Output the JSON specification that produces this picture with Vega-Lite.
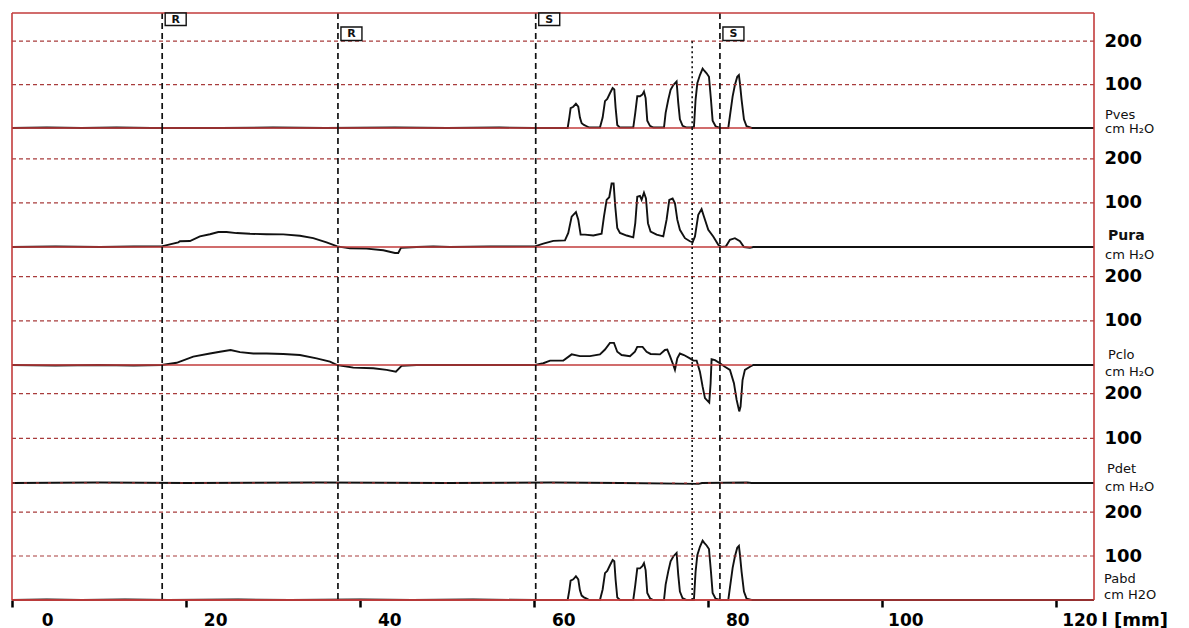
{
  "$schema": "https://vega.github.io/schema/vega-lite/v6.json",
  "background": "white",
  "padding": {"left": 8, "top": 10, "right": 0, "bottom": 0},
  "bounds": "flush",
  "spacing": 0,
  "resolve": {"scale": {"x": "independent", "y": "independent"}},
  "config": {
    "view": {"stroke": null},
    "text": {"font": "DejaVu Sans"},
    "axis": {"labelFont": "DejaVu Sans", "titleFont": "DejaVu Sans"},
    "axisY": {
      "grid": false, "ticks": false, "domain": false, "labelFontSize": 18, "labelFontWeight": "bold",
      "labelColor": "#000", "labelPadding": 10, "labelBaseline": "middle", "labelFlush": false
    }
  },
  "datasets": {
    "levels": [{"v": 100}, {"v": 200}],
    "events": [{"t": 17.26, "label": "R"}, {"t": 37.46, "label": "R"}, {"t": 60.19, "label": "S"}, {"t": 81.36, "label": "S"}],
    "marksTop": [{"t": 17.26, "label": "R"}, {"t": 60.19, "label": "S"}],
    "marksLow": [{"t": 37.46, "label": "R"}, {"t": 81.36, "label": "S"}],
    "edges": [{"x": 0}, {"x": 124.35}],
    "pves": [
      {"mm":0,"p":0},{"mm":4,"p":1},{"mm":8,"p":0},{"mm":12,"p":1},{"mm":16,"p":0},{"mm":24,"p":0},{"mm":30,"p":1},{"mm":36,"p":0},{"mm":44,"p":1},{"mm":50,"p":0},{"mm":56,"p":1},{"mm":60,"p":0},{"mm":63.86,"p":0},
      {"mm":64.05,"p":24},{"mm":64.2,"p":46},{"mm":64.51,"p":49},{"mm":64.81,"p":56},{"mm":65.08,"p":49},{"mm":65.27,"p":24},{"mm":65.47,"p":11},{"mm":65.73,"p":7},{"mm":66.04,"p":4},{"mm":66.35,"p":1},
      {"mm":67.57,"p":1},{"mm":67.88,"p":24},{"mm":68.15,"p":62},{"mm":68.41,"p":67},{"mm":68.72,"p":80},{"mm":69.03,"p":92},{"mm":69.22,"p":89},{"mm":69.37,"p":47},{"mm":69.56,"p":7},{"mm":69.87,"p":1},
      {"mm":71.4,"p":1},{"mm":71.63,"p":35},{"mm":71.86,"p":73},{"mm":72.17,"p":73},{"mm":72.44,"p":77},{"mm":72.63,"p":84},{"mm":72.82,"p":69},{"mm":73.01,"p":17},{"mm":73.32,"p":5},{"mm":73.7,"p":1},
      {"mm":74.93,"p":1},{"mm":75.12,"p":35},{"mm":75.42,"p":65},{"mm":75.69,"p":88},{"mm":76.0,"p":99},{"mm":76.38,"p":107},{"mm":76.57,"p":58},{"mm":76.76,"p":20},{"mm":77.07,"p":5},{"mm":77.53,"p":1},
      {"mm":78.37,"p":1},{"mm":78.56,"p":65},{"mm":78.76,"p":103},{"mm":79.06,"p":122},{"mm":79.37,"p":137},{"mm":79.56,"p":132},{"mm":79.83,"p":126},{"mm":80.1,"p":118},{"mm":80.33,"p":65},{"mm":80.52,"p":17},{"mm":80.86,"p":4},{"mm":81.36,"p":0},
      {"mm":82.32,"p":0},{"mm":82.51,"p":28},{"mm":82.82,"p":73},{"mm":83.08,"p":99},{"mm":83.35,"p":118},{"mm":83.54,"p":122},{"mm":83.66,"p":103},{"mm":83.85,"p":65},{"mm":84.12,"p":20},{"mm":84.42,"p":4},{"mm":85.0,"p":0},{"mm":124.35,"p":0}
    ],
    "pura": [
      {"mm":0,"p":0},{"mm":5,"p":1},{"mm":10.11,"p":0},{"mm":14,"p":1},{"mm":17.2,"p":1.5},{"mm":18.15,"p":6},{"mm":19.11,"p":10.5},{"mm":19.3,"p":13},{"mm":20.45,"p":13.5},{"mm":21.6,"p":24},{"mm":22.75,"p":29},{"mm":23.71,"p":34},{"mm":24.66,"p":34},{"mm":25.81,"p":31.6},{"mm":27.35,"p":30},{"mm":29.26,"p":29},{"mm":31.18,"p":28.6},{"mm":33.09,"p":25.6},{"mm":34.62,"p":20},{"mm":36.15,"p":10.5},{"mm":37.38,"p":1.5},{"mm":38.84,"p":-3},{"mm":40.75,"p":-3.8},{"mm":42.67,"p":-7.5},{"mm":44.01,"p":-13.5},{"mm":44.39,"p":-13.5},{"mm":44.7,"p":-2},{"mm":46.5,"p":0},{"mm":48.41,"p":1},{"mm":50.33,"p":0},{"mm":55,"p":1},
      {"mm":60.1,"p":1.5},{"mm":61.06,"p":7.5},{"mm":62.21,"p":14},{"mm":63.55,"p":15},{"mm":63.93,"p":32},{"mm":64.32,"p":69},{"mm":64.81,"p":79},{"mm":65.08,"p":62},{"mm":65.35,"p":28},{"mm":65.85,"p":28},{"mm":66.81,"p":26},{"mm":67.76,"p":30},{"mm":68.03,"p":69},{"mm":68.34,"p":107},{"mm":68.64,"p":113},{"mm":68.91,"p":144},{"mm":69.14,"p":144},{"mm":69.33,"p":92},{"mm":69.56,"p":43},{"mm":69.87,"p":32},{"mm":70.64,"p":26},{"mm":71.4,"p":22},{"mm":71.63,"p":54},{"mm":71.86,"p":114},{"mm":72.17,"p":116},{"mm":72.36,"p":107},{"mm":72.63,"p":123},{"mm":72.86,"p":110},{"mm":73.09,"p":54},{"mm":73.39,"p":35},{"mm":74.08,"p":28},{"mm":74.85,"p":24},{"mm":75.23,"p":62},{"mm":75.54,"p":107},{"mm":75.92,"p":110},{"mm":76.19,"p":99},{"mm":76.46,"p":62},{"mm":76.76,"p":39},{"mm":77.34,"p":20},{"mm":77.91,"p":13},{"mm":78.22,"p":10.5},{"mm":78.49,"p":24},{"mm":78.87,"p":73},{"mm":79.25,"p":86},{"mm":79.52,"p":69},{"mm":80.02,"p":39},{"mm":80.59,"p":24},{"mm":81.17,"p":5},{"mm":81.55,"p":0},{"mm":82.05,"p":1.5},{"mm":82.51,"p":16.5},{"mm":83.08,"p":20},{"mm":83.66,"p":13},{"mm":84.12,"p":0},{"mm":84.81,"p":-2},{"mm":85.19,"p":0},{"mm":124.35,"p":0}
    ],
    "pclo": [
      {"mm":0,"p":0},{"mm":5,"p":-1},{"mm":10,"p":0},{"mm":14,"p":-1},{"mm":17.2,"p":0},{"mm":18.92,"p":5},{"mm":20.83,"p":19},{"mm":22.75,"p":26},{"mm":23.9,"p":30},{"mm":25.12,"p":34},{"mm":26.2,"p":29},{"mm":27.73,"p":26},{"mm":29.26,"p":26},{"mm":31.18,"p":25},{"mm":33.09,"p":22.6},{"mm":35.01,"p":15},{"mm":36.54,"p":7.5},{"mm":37.38,"p":0},{"mm":39.22,"p":-6},{"mm":41.52,"p":-7.5},{"mm":43.05,"p":-11},{"mm":44.12,"p":-15},{"mm":44.77,"p":-2},{"mm":46.5,"p":0},{"mm":52,"p":0},
      {"mm":60.1,"p":0},{"mm":61.06,"p":4},{"mm":61.83,"p":10},{"mm":63.36,"p":10},{"mm":64.32,"p":24},{"mm":65.27,"p":20},{"mm":66.42,"p":20},{"mm":67.57,"p":24},{"mm":68.15,"p":35},{"mm":68.72,"p":50},{"mm":69.18,"p":50},{"mm":69.56,"p":30},{"mm":70.06,"p":22.6},{"mm":71.02,"p":20},{"mm":71.59,"p":30},{"mm":71.86,"p":41},{"mm":72.47,"p":41},{"mm":72.93,"p":30},{"mm":73.39,"p":25},{"mm":74.47,"p":24},{"mm":75.04,"p":34},{"mm":75.31,"p":35},{"mm":75.62,"p":20},{"mm":76.0,"p":0},{"mm":76.19,"p":-11},{"mm":76.46,"p":15},{"mm":76.76,"p":26},{"mm":77.22,"p":22.6},{"mm":77.91,"p":15},{"mm":78.3,"p":10},{"mm":78.68,"p":10},{"mm":79.06,"p":-15},{"mm":79.37,"p":-49},{"mm":79.64,"p":-75},{"mm":80.13,"p":-85},{"mm":80.29,"p":-41},{"mm":80.4,"p":13},{"mm":80.79,"p":11},{"mm":81.36,"p":4},{"mm":81.93,"p":-4},{"mm":82.51,"p":-11},{"mm":82.97,"p":-41},{"mm":83.28,"p":-79},{"mm":83.58,"p":-105},{"mm":83.73,"p":-94},{"mm":83.96,"p":-34},{"mm":84.23,"p":-11},{"mm":84.81,"p":-4},{"mm":85.19,"p":0},{"mm":124.35,"p":0}
    ],
    "pdet": [
      {"mm":0,"p":0},{"mm":10,"p":1},{"mm":20,"p":0},{"mm":35,"p":1},{"mm":50,"p":0},{"mm":62,"p":1},{"mm":70,"p":0},{"mm":78.9,"p":-2},{"mm":79.3,"p":0},{"mm":84.5,"p":1},{"mm":85,"p":0},{"mm":124.35,"p":0}
    ],
    "pabd": [
      {"mm":0,"p":0},{"mm":4,"p":1},{"mm":8,"p":0},{"mm":13,"p":1},{"mm":18,"p":0},{"mm":26,"p":1},{"mm":32,"p":0},{"mm":40,"p":1},{"mm":46,"p":0},{"mm":53,"p":1},{"mm":60,"p":0},{"mm":63.86,"p":0},
      {"mm":64.05,"p":22},{"mm":64.2,"p":44},{"mm":64.51,"p":47},{"mm":64.81,"p":54},{"mm":65.08,"p":47},{"mm":65.27,"p":22},{"mm":65.47,"p":10},{"mm":65.73,"p":6},{"mm":66.04,"p":3},{"mm":66.35,"p":0},
      {"mm":67.57,"p":0},{"mm":67.88,"p":24},{"mm":68.15,"p":61},{"mm":68.41,"p":66},{"mm":68.72,"p":79},{"mm":69.03,"p":91},{"mm":69.22,"p":88},{"mm":69.37,"p":46},{"mm":69.56,"p":6},{"mm":69.87,"p":0},
      {"mm":71.4,"p":0},{"mm":71.63,"p":34},{"mm":71.86,"p":72},{"mm":72.17,"p":72},{"mm":72.44,"p":77},{"mm":72.63,"p":84},{"mm":72.82,"p":68},{"mm":73.01,"p":16},{"mm":73.32,"p":4},{"mm":73.7,"p":0},
      {"mm":74.93,"p":0},{"mm":75.12,"p":35},{"mm":75.42,"p":65},{"mm":75.69,"p":88},{"mm":76.0,"p":99},{"mm":76.38,"p":107},{"mm":76.57,"p":57},{"mm":76.76,"p":19},{"mm":77.07,"p":4},{"mm":77.53,"p":0},
      {"mm":78.37,"p":0},{"mm":78.56,"p":64},{"mm":78.76,"p":102},{"mm":79.06,"p":121},{"mm":79.37,"p":135},{"mm":79.56,"p":130},{"mm":79.83,"p":124},{"mm":80.1,"p":116},{"mm":80.33,"p":64},{"mm":80.52,"p":16},{"mm":80.86,"p":3},{"mm":81.36,"p":0},
      {"mm":82.32,"p":0},{"mm":82.51,"p":28},{"mm":82.82,"p":73},{"mm":83.08,"p":99},{"mm":83.35,"p":119},{"mm":83.54,"p":123},{"mm":83.66,"p":103},{"mm":83.85,"p":64},{"mm":84.12,"p":19},{"mm":84.42,"p":3},{"mm":85.0,"p":0},{"mm":124.35,"p":0}
    ]
  },
  "vconcat": [
    {
      "width": 1082, "height": 115,
      "layer": [
        {"data": {"name": "pves"}, "mark": {"type": "line", "color": "#111", "strokeWidth": 1.9},
         "encoding": {"x": {"field": "mm", "type": "quantitative", "scale": {"domain": [0, 124.35], "nice": false, "zero": false}, "axis": null},
                      "y": {"field": "p", "type": "quantitative", "scale": {"domain": [0, 265], "nice": false, "zero": false}, "axis": {"orient": "right", "values": [100, 200], "title": null, "grid": false}}}},
        {"data": {"name": "levels"}, "mark": {"type": "rule", "color": "#a83c3c", "strokeWidth": 1.2, "strokeDash": [4, 3]},
         "encoding": {"y": {"field": "v", "type": "quantitative"}}},
        {"data": {"values": [{}]}, "mark": {"type": "rule", "color": "#c23b3b", "strokeWidth": 1.6},
         "encoding": {"x": {"datum": 0, "axis": null}, "x2": {"datum": 85}, "y": {"datum": 0}}},
        {"data": {"name": "events"}, "mark": {"type": "rule", "color": "#111", "strokeWidth": 1.7, "strokeDash": [6, 4]},
         "encoding": {"x": {"field": "t", "type": "quantitative", "axis": null}}},
        {"data": {"values": [{}]}, "mark": {"type": "rule", "color": "#111", "strokeWidth": 1.6, "strokeDash": [2, 3]},
         "encoding": {"x": {"datum": 78.17, "axis": null}, "y": {"datum": 200}, "y2": {"datum": 0}}},
        {"data": {"name": "edges"}, "mark": {"type": "rule", "color": "#c23b3b", "strokeWidth": 1.6},
         "encoding": {"x": {"field": "x", "type": "quantitative", "axis": null}}},
        {"data": {"values": [{}]}, "mark": {"type": "rule", "color": "#c23b3b", "strokeWidth": 1.6},
         "encoding": {"y": {"datum": 265}}},
        {"data": {"name": "marksTop"}, "mark": {"type": "point", "shape": "M0.3,0H2.4V1.25H0.3Z", "size": 400, "filled": true, "fill": "#fff", "stroke": "#111", "strokeWidth": 1.4, "opacity": 1},
         "encoding": {"x": {"field": "t", "type": "quantitative", "axis": null}, "y": {"datum": 265}}},
        {"data": {"name": "marksTop"}, "mark": {"type": "text", "dx": 13.5, "dy": 6.5, "fontSize": 11, "fontWeight": "bold", "align": "center", "baseline": "middle", "color": "#111"},
         "encoding": {"x": {"field": "t", "type": "quantitative", "axis": null}, "y": {"datum": 265}, "text": {"field": "label"}}},
        {"data": {"name": "marksLow"}, "mark": {"type": "point", "shape": "M0.3,1.4H2.4V2.75H0.3Z", "size": 400, "filled": true, "fill": "#fff", "stroke": "#111", "strokeWidth": 1.4, "opacity": 1},
         "encoding": {"x": {"field": "t", "type": "quantitative", "axis": null}, "y": {"datum": 265}}},
        {"data": {"name": "marksLow"}, "mark": {"type": "text", "dx": 13.5, "dy": 20.5, "fontSize": 11, "fontWeight": "bold", "align": "center", "baseline": "middle", "color": "#111"},
         "encoding": {"x": {"field": "t", "type": "quantitative", "axis": null}, "y": {"datum": 265}, "text": {"field": "label"}}},
        {"data": {"values": [{"label": "Pves"}]}, "mark": {"type": "text", "align": "left", "baseline": "middle", "dx": 11, "fontSize": 13, "color": "#111"},
         "encoding": {"x": {"datum": 124.35, "axis": null}, "y": {"datum": 30}, "text": {"field": "label"}}},
        {"data": {"values": [{"label": "cm H₂O"}]}, "mark": {"type": "text", "align": "left", "baseline": "middle", "dx": 11, "fontSize": 13, "color": "#111"},
         "encoding": {"x": {"datum": 124.35, "axis": null}, "y": {"datum": -2}, "text": {"field": "label"}}}
      ]
    },
    {
      "width": 1082, "height": 119,
      "layer": [
        {"data": {"name": "pura"}, "mark": {"type": "line", "color": "#111", "strokeWidth": 1.9},
         "encoding": {"x": {"field": "mm", "type": "quantitative", "scale": {"domain": [0, 124.35], "nice": false, "zero": false}, "axis": null},
                      "y": {"field": "p", "type": "quantitative", "scale": {"domain": [0, 270], "nice": false, "zero": false}, "axis": {"orient": "right", "values": [100, 200], "title": null, "grid": false}}}},
        {"data": {"name": "levels"}, "mark": {"type": "rule", "color": "#a83c3c", "strokeWidth": 1.2, "strokeDash": [4, 3]},
         "encoding": {"y": {"field": "v", "type": "quantitative"}}},
        {"data": {"values": [{}]}, "mark": {"type": "rule", "color": "#c23b3b", "strokeWidth": 1.6},
         "encoding": {"x": {"datum": 0, "axis": null}, "x2": {"datum": 85}, "y": {"datum": 0}}},
        {"data": {"name": "events"}, "mark": {"type": "rule", "color": "#111", "strokeWidth": 1.7, "strokeDash": [6, 4]},
         "encoding": {"x": {"field": "t", "type": "quantitative", "axis": null}}},
        {"data": {"values": [{}]}, "mark": {"type": "rule", "color": "#111", "strokeWidth": 1.6, "strokeDash": [2, 3]},
         "encoding": {"x": {"datum": 78.17, "axis": null}}},
        {"data": {"name": "edges"}, "mark": {"type": "rule", "color": "#c23b3b", "strokeWidth": 1.6},
         "encoding": {"x": {"field": "x", "type": "quantitative", "axis": null}}},
        {"data": {"values": [{"label": "Pura"}]}, "mark": {"type": "text", "align": "left", "baseline": "middle", "dx": 14, "fontSize": 14, "fontWeight": "bold", "color": "#111"},
         "encoding": {"x": {"datum": 124.35, "axis": null}, "y": {"datum": 26}, "text": {"field": "label"}}},
        {"data": {"values": [{"label": "cm H₂O"}]}, "mark": {"type": "text", "align": "left", "baseline": "middle", "dx": 11, "fontSize": 13, "color": "#111"},
         "encoding": {"x": {"datum": 124.35, "axis": null}, "y": {"datum": -17.5}, "text": {"field": "label"}}}
      ]
    },
    {
      "width": 1082, "height": 118,
      "layer": [
        {"data": {"name": "pclo"}, "mark": {"type": "line", "color": "#111", "strokeWidth": 1.9},
         "encoding": {"x": {"field": "mm", "type": "quantitative", "scale": {"domain": [0, 124.35], "nice": false, "zero": false}, "axis": null},
                      "y": {"field": "p", "type": "quantitative", "scale": {"domain": [0, 267], "nice": false, "zero": false}, "axis": {"orient": "right", "values": [100, 200], "title": null, "grid": false}}}},
        {"data": {"name": "levels"}, "mark": {"type": "rule", "color": "#a83c3c", "strokeWidth": 1.2, "strokeDash": [4, 3]},
         "encoding": {"y": {"field": "v", "type": "quantitative"}}},
        {"data": {"values": [{}]}, "mark": {"type": "rule", "color": "#c23b3b", "strokeWidth": 1.6},
         "encoding": {"x": {"datum": 0, "axis": null}, "x2": {"datum": 85}, "y": {"datum": 0}}},
        {"data": {"name": "events"}, "mark": {"type": "rule", "color": "#111", "strokeWidth": 1.7, "strokeDash": [6, 4]},
         "encoding": {"x": {"field": "t", "type": "quantitative", "axis": null}}},
        {"data": {"values": [{}]}, "mark": {"type": "rule", "color": "#111", "strokeWidth": 1.6, "strokeDash": [2, 3]},
         "encoding": {"x": {"datum": 78.17, "axis": null}}},
        {"data": {"name": "edges"}, "mark": {"type": "rule", "color": "#c23b3b", "strokeWidth": 1.6},
         "encoding": {"x": {"field": "x", "type": "quantitative", "axis": null}}},
        {"data": {"values": [{"label": "Pclo"}]}, "mark": {"type": "text", "align": "left", "baseline": "middle", "dx": 14, "fontSize": 13, "color": "#111"},
         "encoding": {"x": {"datum": 124.35, "axis": null}, "y": {"datum": 22}, "text": {"field": "label"}}},
        {"data": {"values": [{"label": "cm H₂O"}]}, "mark": {"type": "text", "align": "left", "baseline": "middle", "dx": 11, "fontSize": 13, "color": "#111"},
         "encoding": {"x": {"datum": 124.35, "axis": null}, "y": {"datum": -16}, "text": {"field": "label"}}}
      ]
    },
    {
      "width": 1082, "height": 118,
      "layer": [
        {"data": {"name": "pdet"}, "mark": {"type": "line", "color": "#111", "strokeWidth": 1.9},
         "encoding": {"x": {"field": "mm", "type": "quantitative", "scale": {"domain": [0, 124.35], "nice": false, "zero": false}, "axis": null},
                      "y": {"field": "p", "type": "quantitative", "scale": {"domain": [0, 264], "nice": false, "zero": false}, "axis": {"orient": "right", "values": [100, 200], "title": null, "grid": false}}}},
        {"data": {"name": "levels"}, "mark": {"type": "rule", "color": "#a83c3c", "strokeWidth": 1.2, "strokeDash": [4, 3]},
         "encoding": {"y": {"field": "v", "type": "quantitative"}}},
        {"data": {"values": [{}]}, "mark": {"type": "rule", "color": "#c23b3b", "strokeWidth": 1.2, "strokeDash": [3, 9]},
         "encoding": {"x": {"datum": 0, "axis": null}, "x2": {"datum": 85}, "y": {"datum": 0}}},
        {"data": {"name": "events"}, "mark": {"type": "rule", "color": "#111", "strokeWidth": 1.7, "strokeDash": [6, 4]},
         "encoding": {"x": {"field": "t", "type": "quantitative", "axis": null}}},
        {"data": {"values": [{}]}, "mark": {"type": "rule", "color": "#111", "strokeWidth": 1.6, "strokeDash": [2, 3]},
         "encoding": {"x": {"datum": 78.17, "axis": null}}},
        {"data": {"name": "edges"}, "mark": {"type": "rule", "color": "#c23b3b", "strokeWidth": 1.6},
         "encoding": {"x": {"field": "x", "type": "quantitative", "axis": null}}},
        {"data": {"values": [{"label": "Pdet"}]}, "mark": {"type": "text", "align": "left", "baseline": "middle", "dx": 13, "fontSize": 13, "color": "#111"},
         "encoding": {"x": {"datum": 124.35, "axis": null}, "y": {"datum": 32}, "text": {"field": "label"}}},
        {"data": {"values": [{"label": "cm H₂O"}]}, "mark": {"type": "text", "align": "left", "baseline": "middle", "dx": 11, "fontSize": 13, "color": "#111"},
         "encoding": {"x": {"datum": 124.35, "axis": null}, "y": {"datum": -8}, "text": {"field": "label"}}}
      ]
    },
    {
      "width": 1082, "height": 117,
      "layer": [
        {"data": {"name": "pabd"}, "mark": {"type": "line", "color": "#111", "strokeWidth": 1.9},
         "encoding": {"x": {"field": "mm", "type": "quantitative", "scale": {"domain": [0, 124.35], "nice": false, "zero": false},
                            "axis": {"orient": "bottom", "values": [0, 20, 40, 60, 80, 100, 120], "domain": false, "grid": false,
                                     "ticks": true, "tickColor": "#000", "tickSize": 7, "tickWidth": 2.5,
                                     "labelFontSize": 17, "labelFontWeight": "bold", "labelColor": "#000",
                                     "labelAlign": "right", "labelOffset": 41, "labelPadding": 5, "labelFlush": false, "labelOverlap": false,
                                     "title": "l [mm]", "titleFontSize": 18, "titleFontWeight": "bold", "titleColor": "#000",
                                     "titleAlign": "left", "titleBaseline": "top", "titleX": 1089, "titleY": 11}},
                      "y": {"field": "p", "type": "quantitative", "scale": {"domain": [0, 266], "nice": false, "zero": false}, "axis": {"orient": "right", "values": [100, 200], "title": null, "grid": false}}}},
        {"data": {"name": "levels"}, "mark": {"type": "rule", "color": "#a83c3c", "strokeWidth": 1.2, "strokeDash": [4, 3]},
         "encoding": {"y": {"field": "v", "type": "quantitative"}}},
        {"data": {"values": [{}]}, "mark": {"type": "rule", "color": "#c23b3b", "strokeWidth": 1.6},
         "encoding": {"x": {"datum": 0}, "x2": {"datum": 85}, "y": {"datum": 0}}},
        {"data": {"name": "events"}, "mark": {"type": "rule", "color": "#111", "strokeWidth": 1.7, "strokeDash": [6, 4]},
         "encoding": {"x": {"field": "t", "type": "quantitative"}}},
        {"data": {"values": [{}]}, "mark": {"type": "rule", "color": "#111", "strokeWidth": 1.6, "strokeDash": [2, 3]},
         "encoding": {"x": {"datum": 78.17}}},
        {"data": {"name": "edges"}, "mark": {"type": "rule", "color": "#c23b3b", "strokeWidth": 1.6},
         "encoding": {"x": {"field": "x", "type": "quantitative"}}},
        {"data": {"values": [{}]}, "mark": {"type": "rule", "color": "#c23b3b", "strokeWidth": 1.6},
         "encoding": {"y": {"datum": 0}}},
        {"data": {"values": [{"label": "Pabd"}]}, "mark": {"type": "text", "align": "left", "baseline": "middle", "dx": 10, "fontSize": 13, "color": "#111"},
         "encoding": {"x": {"datum": 124.35}, "y": {"datum": 48}, "text": {"field": "label"}}},
        {"data": {"values": [{"label": "cm H2O"}]}, "mark": {"type": "text", "align": "left", "baseline": "middle", "dx": 10, "fontSize": 13, "color": "#111"},
         "encoding": {"x": {"datum": 124.35}, "y": {"datum": 11}, "text": {"field": "label"}}}
      ]
    }
  ]
}
